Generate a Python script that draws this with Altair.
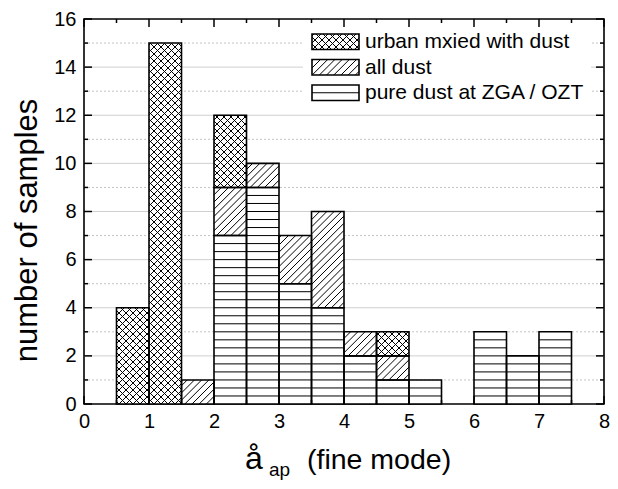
import altair as alt
import pandas as pd
import numpy as np

# ---------------- data ----------------
bin_start = [0.5, 1.0, 1.5, 2.0, 2.5, 3.0, 3.5, 4.0, 4.5, 5.0, 6.0, 6.5, 7.0]
bin_width = 0.5
pure_dust = [0, 0, 0, 7, 9, 5, 4, 2, 1, 1, 3, 2, 3]
all_dust = [0, 0, 1, 9, 10, 7, 8, 3, 2, 1, 3, 2, 3]
urban_mixed = [4, 15, 1, 12, 10, 7, 8, 3, 3, 1, 3, 2, 3]
series_names = ["urban mxied with dust", "all dust", "pure dust at ZGA / OZT"]
series_kinds = ["x", "d", "h"]
x_ticks = [0, 1, 2, 3, 4, 5, 6, 7, 8]
x_minor = [0.5, 1.5, 2.5, 3.5, 4.5, 5.5, 6.5, 7.5]
y_ticks = [0, 2, 4, 6, 8, 10, 12, 14, 16]
y_minor = [1, 3, 5, 7, 9, 11, 13, 15]

# ---------------- layout ----------------
W, H = 520, 385
XMAX, YMAX = 8, 16
KX, KY = W / XMAX, H / YMAX
FONT = "Liberation Sans"
S_DIAG = 7.2   # hatch spacing in px
S_CROSS = 7.0

xs = alt.Scale(domain=[0, XMAX], nice=False, zero=False)
ys = alt.Scale(domain=[0, YMAX], nice=False, zero=False)

xaxis = alt.Axis(values=x_ticks, ticks=False, domain=False, grid=False, labelFontSize=20,
                 labelFont=FONT, labelColor="black", labelPadding=7, title=None, labelFlush=False)
yaxis = alt.Axis(values=y_ticks, ticks=False, domain=False, grid=False, labelFontSize=20,
                 labelFont=FONT, labelColor="black", labelPadding=8, title="number of samples",
                 titleFontSize=31, titleFont=FONT, titleFontWeight="normal", titleColor="black",
                 titlePadding=10, titleY=211)


def X(f):
    return alt.X(f, scale=xs, axis=xaxis)


def Y(f):
    return alt.Y(f, scale=ys, axis=yaxis)


# segments of the overlaid histograms
segs = []
for b, p, a, u in zip(bin_start, pure_dust, all_dust, urban_mixed):
    if p > 0:
        segs.append(dict(x0=b, x1=b + bin_width, y0=0, y1=p, kind="h"))
    if a > p:
        segs.append(dict(x0=b, x1=b + bin_width, y0=p, y1=a, kind="d"))
    if u > a:
        segs.append(dict(x0=b, x1=b + bin_width, y0=a, y1=u, kind="x"))


def diag(u0, u1, v0, v1, sign, s):
    out = []
    if sign > 0:
        cmin, cmax = u0 - v1, u1 - v0
        for k in range(int(np.floor(cmin / s)), int(np.ceil(cmax / s)) + 1):
            c = k * s
            ua, ub = max(u0, v0 + c), min(u1, v1 + c)
            if ub - ua > 0.3:
                out.append((ua, ua - c, ub, ub - c))
    else:
        cmin, cmax = u0 + v0, u1 + v1
        for k in range(int(np.floor(cmin / s)), int(np.ceil(cmax / s)) + 1):
            c = k * s
            ua, ub = max(u0, c - v1), min(u1, c - v0)
            if ub - ua > 0.3:
                out.append((ua, c - ua, ub, c - ub))
    return out


def hatch(x0, x1, y0, y1, kind, legend=False):
    u0, u1, v0, v1 = x0 * KX, x1 * KX, y0 * KY, y1 * KY
    lines = []
    if kind == "h":
        if legend:
            ym = (y0 + y1) / 2
            return [(x0, ym, x1, ym)]
        for k in range(int(round(3 * y0)) + 1, int(round(3 * y1))):
            lines.append((x0, k / 3, x1, k / 3))
        return lines
    if kind == "d":
        px = diag(u0, u1, v0, v1, 1, S_DIAG)
    else:
        px = diag(u0, u1, v0, v1, 1, S_CROSS) + diag(u0, u1, v0, v1, -1, S_CROSS)
    return [(a / KX, b / KY, c / KX, d / KY) for a, b, c, d in px]


# legend geometry (pixels inside the plot, y downward) -> data units
def dx(px):
    return px / KX


def dy(py):
    return (H - py) / KY


leg_box = dict(x0=dx(219), x1=dx(507), y0=dy(88), y1=dy(8))
leg_syms = []
leg_txt = []
for i, (name, kind) in enumerate(zip(series_names, series_kinds)):
    top = 15 + i * 25.5
    leg_syms.append(dict(x0=dx(228), x1=dx(275), y0=dy(top + 15.5), y1=dy(top), kind=kind))
    leg_txt.append(dict(x=dx(281), y=dy(top + 8), name=name))

hl_bars = []
for s in segs:
    hl_bars += hatch(s["x0"], s["x1"], s["y0"], s["y1"], s["kind"])
hl_leg = []
for s in leg_syms:
    hl_leg += hatch(s["x0"], s["x1"], s["y0"], s["y1"], s["kind"], legend=True)

seg_df = pd.DataFrame(segs)
legsym_df = pd.DataFrame(leg_syms)
legbox_df = pd.DataFrame([leg_box])
legtxt_df = pd.DataFrame(leg_txt)


def rect_layer(df, **kw):
    return alt.Chart(df).mark_rect(**kw).encode(
        x=X("x0:Q"), x2="x1:Q", y=Y("y0:Q"), y2="y1:Q")


def hatch_layer(lines):
    df = pd.DataFrame(lines, columns=["x", "y", "xe", "ye"])
    return alt.Chart(df).mark_rule(color="black", strokeWidth=1).encode(
        x=X("x:Q"), x2="xe:Q", y=Y("y:Q"), y2="ye:Q")


# grid
grid_major = alt.Chart(pd.DataFrame({"v": y_ticks[1:-1]})).mark_rule(
    color="#cfcfcf", strokeWidth=1).encode(y=Y("v:Q"), x=alt.value(0), x2=alt.value(W))
grid_minor = alt.Chart(pd.DataFrame({"v": y_minor})).mark_rule(
    color="#c4c4c4", strokeWidth=1, strokeDash=[2, 2]).encode(y=Y("v:Q"), x=alt.value(0), x2=alt.value(W))

bars_fill = rect_layer(seg_df, fill="white", strokeWidth=0)
bars_hatch = hatch_layer(hl_bars)
bars_outline = rect_layer(seg_df, fillOpacity=0, stroke="black", strokeWidth=1.6)

legend_box = rect_layer(legbox_df, fill="white", strokeWidth=0)
legend_fill = rect_layer(legsym_df, fill="white", strokeWidth=0)
legend_hatch = hatch_layer(hl_leg)
legend_outline = rect_layer(legsym_df, fillOpacity=0, stroke="black", strokeWidth=1.6)
legend_text = alt.Chart(legtxt_df).mark_text(
    align="left", baseline="middle", fontSize=21, font=FONT, color="black").encode(
    x=X("x:Q"), y=Y("y:Q"), text="name:N")


def yticks(vals, x1, x2):
    return alt.Chart(pd.DataFrame({"v": vals})).mark_rule(color="black", strokeWidth=1.5).encode(
        y=Y("v:Q"), x=alt.value(x1), x2=alt.value(x2))


def xticks(vals, y1, y2):
    return alt.Chart(pd.DataFrame({"v": vals})).mark_rule(color="black", strokeWidth=1.5).encode(
        x=X("v:Q"), y=alt.value(y1), y2=alt.value(y2))


tick_layers = [
    yticks(y_ticks, 0, 8), yticks(y_minor, 0, 4),
    yticks(y_ticks, W, W - 8), yticks(y_minor, W, W - 4),
    xticks(x_ticks, 0, 8), xticks(x_minor, 0, 4),
    xticks(x_ticks, H, H - 8), xticks(x_minor, H, H - 4),
]


def label(txt, x, y, size):
    return alt.Chart(pd.DataFrame({"t": [txt]})).mark_text(
        align="left", baseline="alphabetic", fontSize=size, font=FONT, color="black").encode(
        x=alt.value(x), y=alt.value(y), text="t:N")


xtitle = [label("å", 161, 450, 32), label("ap", 185, 457, 19), label("(fine mode)", 223, 450, 28.5)]

chart = alt.layer(
    grid_major, grid_minor, bars_fill, bars_hatch, bars_outline,
    legend_box, legend_fill, legend_hatch, legend_outline, legend_text,
    *tick_layers, *xtitle
).properties(
    width=W, height=H,
    autosize=alt.AutoSizeParams(type="none"),
    padding={"left": 76, "top": 11, "right": 6, "bottom": 77},
    background="white",
).configure_view(stroke="black", strokeWidth=1.6)

chart.save("out.html", embed_options={"renderer": "svg", "actions": False})
